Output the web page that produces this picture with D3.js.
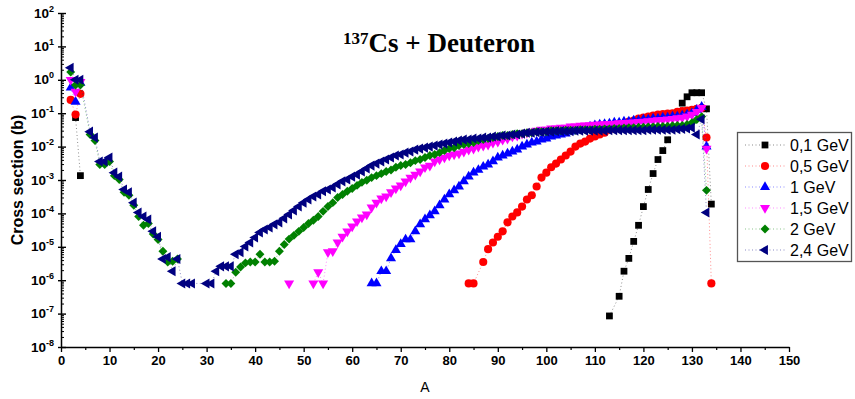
<!DOCTYPE html>
<html><head><meta charset="utf-8">
<script src="https://cdn.jsdelivr.net/npm/d3@7"></script>
<style>body{margin:0;background:#fff}</style>
</head><body>
<svg id="c" width="855" height="399"></svg>
<script>
// ---- data: [A, cross section (b)] ----
const s01 = [[3,7.4e-2],[4,1.35e-3],[113,8.5e-8],[115,3.3e-7],[116,1.86e-6],[117,4.5e-6],[118,1.45e-5],[119,4.4e-5],[120,1.6e-4],[121,5.2e-4],[122,1.56e-3],[123,4.1e-3],[124,7.6e-3],[125,1.6e-2],[128,0.2],[129,0.31],[130,0.41],[131,0.41],[132,0.41],[133,0.135],[134,1.9e-4]];
const s05 = [[2,0.25],[3,0.091],[4,0.38],[84,8e-7],[85,8e-7],[87,3.5e-6],[88,8.5e-6],[89,1.35e-5],[90,2.0e-5],[91,2.9e-5],[92,5.4e-5],[93,8.1e-5],[94,1.07e-4],[95,1.6e-4],[96,2.6e-4],[97,3.5e-4],[98,6.4e-4],[99,1.18e-3],[100,1.66e-3],[101,2.4e-3],[102,3.1e-3],[103,4.1e-3],[104,5.4e-3],[105,7.1e-3],[106,0.010],[107,0.0123],[108,0.0141],[109,0.0174],[110,0.020],[111,0.023],[112,0.026],[113,0.032],[114,0.037],[115,0.043],[116,0.049],[117,0.056],[118,0.060],[119,0.069],[120,0.074],[121,0.079],[122,0.085],[123,0.091],[124,0.094],[125,0.098],[126,0.100],[127,0.110],[128,0.115],[129,0.120],[130,0.126],[131,0.135],[132,0.144],[133,0.0186],[134,8e-7]];
const s1 = [[2,0.58],[3,0.22],[4,0.81],[64,8e-7],[65,8e-7],[66,1.86e-6],[67,1.86e-6],[68,4.5e-6],[69,8.0e-6],[70,1.2e-5],[71,1.66e-5],[72,1.66e-5],[73,2.9e-5],[74,4.7e-5],[75,6.6e-5],[76,8.7e-5],[77,1.15e-4],[78,1.75e-4],[79,2.6e-4],[80,3.7e-4],[81,4.9e-4],[82,6.4e-4],[83,9.1e-4],[84,1.26e-3],[85,1.66e-3],[86,2.0e-3],[87,2.5e-3],[88,2.9e-3],[89,3.6e-3],[90,4.7e-3],[91,5.4e-3],[92,6.2e-3],[93,7.1e-3],[94,8.1e-3],[95,0.010],[96,0.0115],[97,0.0132],[98,0.0141],[99,0.0162],[100,0.0174],[101,0.020],[102,0.0214],[103,0.023],[104,0.0245],[105,0.028],[106,0.030],[107,0.032],[108,0.035],[109,0.040],[110,0.043],[111,0.046],[112,0.047],[113,0.049],[114,0.052],[115,0.052],[116,0.056],[117,0.056],[118,0.060],[119,0.060],[120,0.065],[121,0.065],[122,0.069],[123,0.069],[124,0.074],[125,0.074],[126,0.079],[127,0.079],[128,0.085],[129,0.091],[130,0.100],[131,0.126],[132,0.155],[133,0.010]];
const s15 = [[2,1.0],[3,0.44],[4,0.87],[47,8e-7],[52,8e-7],[53,1.74e-6],[54,8e-7],[55,6.9e-6],[56,7.4e-6],[57,1.35e-5],[58,2.0e-5],[59,2.9e-5],[60,4.1e-5],[61,5.8e-5],[62,7.6e-5],[63,9.3e-5],[64,1.5e-4],[65,2.1e-4],[66,2.8e-4],[67,3.2e-4],[68,4.3e-4],[69,5.6e-4],[70,6.9e-4],[71,9.1e-4],[72,1.18e-3],[73,1.45e-3],[74,1.8e-3],[75,2.4e-3],[76,2.7e-3],[77,3.6e-3],[78,4.1e-3],[79,4.7e-3],[80,5.4e-3],[81,5.8e-3],[82,6.2e-3],[83,7.1e-3],[84,8.1e-3],[85,8.7e-3],[86,0.010],[87,0.0107],[88,0.0115],[89,0.0132],[90,0.0141],[91,0.0162],[92,0.0174],[93,0.020],[94,0.0214],[95,0.0245],[96,0.026],[97,0.028],[98,0.030],[99,0.032],[100,0.032],[101,0.035],[102,0.035],[103,0.037],[104,0.037],[105,0.040],[106,0.040],[107,0.042],[108,0.043],[109,0.044],[110,0.045],[111,0.046],[112,0.047],[113,0.048],[114,0.049],[115,0.050],[116,0.051],[117,0.052],[118,0.053],[119,0.055],[120,0.056],[121,0.058],[122,0.060],[123,0.062],[124,0.063],[125,0.065],[126,0.068],[127,0.071],[128,0.074],[129,0.080],[130,0.091],[131,0.110],[132,0.144],[133,0.0087]];
const s2 = [[2,1.7],[3,0.7],[4,0.7],[6,0.023],[7,0.0151],[8,2.9e-3],[9,2.9e-3],[10,3.6e-3],[11,1.35e-3],[12,1.03e-3],[13,4.3e-4],[14,3.5e-4],[15,1.75e-4],[16,8.1e-5],[17,4.4e-5],[18,5.0e-5],[19,2.4e-5],[20,1.66e-5],[21,7.4e-6],[22,3.5e-6],[23,3.7e-6],[24,4.3e-6],[34,8e-7],[35,8e-7],[36,1.74e-6],[37,2.5e-6],[38,3.3e-6],[39,3.5e-6],[40,3.5e-6],[41,6.0e-6],[42,3.5e-6],[43,3.5e-6],[44,3.7e-6],[45,7.4e-6],[46,1.17e-5],[47,1.7e-5],[48,2.2e-5],[49,2.9e-5],[50,3.8e-5],[51,5.0e-5],[52,6.2e-5],[53,8.1e-5],[54,1.15e-4],[55,1.6e-4],[56,2.1e-4],[57,3.0e-4],[58,3.7e-4],[59,4.6e-4],[60,5.6e-4],[61,6.9e-4],[62,8.5e-4],[63,9.8e-4],[64,1.18e-3],[65,1.35e-3],[66,1.55e-3],[67,1.8e-3],[68,2.0e-3],[69,2.4e-3],[70,2.7e-3],[71,2.9e-3],[72,3.3e-3],[73,3.8e-3],[74,4.1e-3],[75,4.7e-3],[76,5.4e-3],[77,5.8e-3],[78,6.6e-3],[79,7.6e-3],[80,8.7e-3],[81,9.3e-3],[82,0.0107],[83,0.0115],[84,0.0123],[85,0.0132],[86,0.0151],[87,0.0162],[88,0.0174],[89,0.0186],[90,0.020],[91,0.0214],[92,0.0214],[93,0.023],[94,0.0245],[95,0.0245],[96,0.026],[97,0.026],[98,0.028],[99,0.028],[100,0.028],[101,0.030],[102,0.030],[103,0.030],[104,0.031],[105,0.031],[106,0.031],[107,0.032],[108,0.032],[109,0.032],[110,0.033],[111,0.033],[112,0.034],[113,0.034],[114,0.035],[115,0.035],[116,0.036],[117,0.037],[118,0.037],[119,0.038],[120,0.038],[121,0.039],[122,0.039],[123,0.040],[124,0.040],[125,0.041],[126,0.042],[127,0.043],[128,0.043],[129,0.046],[130,0.052],[131,0.065],[132,0.079],[133,4.9e-4]];
const s24 = [[2,2.3],[3,1.0],[4,1.0],[6,0.028],[7,0.0186],[8,3.6e-3],[9,3.6e-3],[10,4.7e-3],[11,1.66e-3],[12,1.26e-3],[13,5.2e-4],[14,4.3e-4],[15,2.1e-4],[16,1.07e-4],[17,8.1e-5],[18,6.6e-5],[19,2.9e-5],[20,2.0e-5],[21,4.3e-6],[22,4.9e-6],[23,1.86e-6],[24,4.3e-6],[25,8e-7],[26,8e-7],[27,8e-7],[30,8e-7],[31,8e-7],[32,1.86e-6],[33,2.6e-6],[34,2.6e-6],[35,2.6e-6],[36,6.0e-6],[37,6.9e-6],[38,1.02e-5],[39,1.35e-5],[40,1.9e-5],[41,2.7e-5],[42,3.3e-5],[43,3.8e-5],[44,4.7e-5],[45,5.4e-5],[46,7.1e-5],[47,9.3e-5],[48,1.23e-4],[49,1.6e-4],[50,2.1e-4],[51,2.6e-4],[52,3.2e-4],[53,3.7e-4],[54,4.6e-4],[55,5.2e-4],[56,6.0e-4],[57,7.4e-4],[58,9.1e-4],[59,1.03e-3],[60,1.26e-3],[61,1.45e-3],[62,1.8e-3],[63,2.2e-3],[64,2.7e-3],[65,3.1e-3],[66,3.6e-3],[67,4.1e-3],[68,4.7e-3],[69,5.4e-3],[70,5.8e-3],[71,6.6e-3],[72,7.1e-3],[73,8.1e-3],[74,8.7e-3],[75,9.3e-3],[76,0.010],[77,0.0107],[78,0.0115],[79,0.0123],[80,0.0132],[81,0.0141],[82,0.0151],[83,0.0162],[84,0.0162],[85,0.0174],[86,0.0174],[87,0.0186],[88,0.0186],[89,0.020],[90,0.020],[91,0.0214],[92,0.0214],[93,0.023],[94,0.023],[95,0.0245],[96,0.026],[97,0.026],[98,0.027],[99,0.027],[100,0.028],[101,0.028],[102,0.029],[103,0.029],[104,0.029],[105,0.029],[106,0.030],[107,0.030],[108,0.030],[109,0.030],[110,0.030],[111,0.030],[112,0.030],[113,0.031],[114,0.031],[115,0.031],[116,0.031],[117,0.031],[118,0.031],[119,0.031],[120,0.031],[121,0.032],[122,0.032],[123,0.032],[124,0.032],[125,0.032],[126,0.032],[127,0.033],[128,0.034],[129,0.035],[130,0.037],[131,0.023],[132,0.066],[133,1.07e-4]];

const seriesNames = ["0,1 GeV","0,5 GeV","1 GeV","1,5 GeV","2 GeV","2,4 GeV"];
const seriesData = [s01, s05, s1, s15, s2, s24];
const xTickValues = [0,10,20,30,40,50,60,70,80,90,100,110,120,130,140,150];
const yExponents = [-8,-7,-6,-5,-4,-3,-2,-1,0,1,2];

// ---- styles ----
const colors = ["#000000","#ff0000","#0000ff","#ff00ff","#008000","#000080"];
const shapes = [
  {t:d3.symbolSquare, s:46, r:0},
  {t:d3.symbolCircle, s:52, r:0},
  {t:d3.symbolTriangle, s:44, r:0},
  {t:d3.symbolTriangle, s:44, r:180},
  {t:d3.symbolSquare, s:40, r:45},
  {t:d3.symbolTriangle, s:44, r:-90}
];
const FONT = "'Liberation Sans', Arial, sans-serif";

const svg = d3.select("#c");
const x = d3.scaleLinear().domain([0,150]).range([61,789]);
const y = d3.scaleLog().domain([1e-8,1e2]).range([347,13]);

// ---- series ----
function segments(data){
  const segs=[]; let cur=[];
  data.forEach((d,i)=>{ if(i>0 && d[0]-data[i-1][0]>3){segs.push(cur);cur=[];} cur.push(d); });
  segs.push(cur); return segs;
}
const line = d3.line().x(d=>x(d[0])).y(d=>y(d[1]));
const plot = svg.append("g");
seriesData.forEach((data,i)=>{
  const g = plot.append("g");
  segments(data).forEach(seg=>{
    g.append("path").attr("d", line(seg)).attr("fill","none")
      .attr("stroke", colors[i]).attr("stroke-width",1).attr("stroke-dasharray","1,2.5").attr("opacity",0.45);
  });
  const sym = d3.symbol().type(shapes[i].t).size(shapes[i].s);
  g.selectAll("path.m").data(data).join("path").attr("class","m")
    .attr("d", sym())
    .attr("transform", d=>`translate(${x(d[0])},${y(d[1])}) rotate(${shapes[i].r})`)
    .attr("fill", colors[i]);
});

// ---- axes ----
const axG = svg.append("g");
const xAxis = d3.axisBottom(x).tickValues(xTickValues).tickSizeInner(5).tickSizeOuter(0).tickPadding(3);
const gx = axG.append("g").attr("transform","translate(0,347)").call(xAxis);
gx.select(".domain").attr("stroke","#000").attr("stroke-width",1.5);
gx.selectAll(".tick line").attr("stroke","#000").attr("stroke-width",1.3);
gx.selectAll(".tick text").attr("font-family",FONT).attr("font-weight","bold").attr("font-size",13).attr("fill","#000").attr("dy","0.75em");
const xMinor = d3.axisBottom(x).tickValues(xTickValues.slice(0,-1).map(v=>v+5)).tickSizeInner(3).tickSizeOuter(0).tickFormat("");
const gxm = axG.append("g").attr("transform","translate(0,347)").call(xMinor);
gxm.select(".domain").remove();
gxm.selectAll(".tick line").attr("stroke","#000").attr("stroke-width",1.2);

const yMajor = yExponents.map(e=>Math.pow(10,e));
const yAxis = d3.axisLeft(y).tickValues(yMajor).tickSizeInner(-5).tickSizeOuter(0).tickFormat("");
const gy = axG.append("g").attr("transform","translate(61,0)").call(yAxis);
gy.select(".domain").attr("stroke","#000").attr("stroke-width",1.5);
gy.selectAll(".tick line").attr("stroke","#000").attr("stroke-width",1.4).attr("x1",-3);
const yMinorVals = [];
yExponents.slice(0,-1).forEach(e=>{ for(let k=2;k<=9;k++) yMinorVals.push(k*Math.pow(10,e)); });
const yMinor = d3.axisLeft(y).tickValues(yMinorVals).tickSizeInner(-3).tickSizeOuter(0).tickFormat("");
const gym = axG.append("g").attr("transform","translate(61,0)").call(yMinor);
gym.select(".domain").remove();
gym.selectAll(".tick line").attr("stroke","#000").attr("stroke-width",1);

yExponents.forEach(e=>{
  const t = axG.append("text").attr("x",54).attr("y",y(Math.pow(10,e))+4.5)
    .attr("text-anchor","end").attr("font-family",FONT).attr("font-weight","bold").attr("fill","#000");
  t.append("tspan").attr("font-size",13.5).text("10");
  t.append("tspan").attr("font-size",9).attr("dy",-6).text(String(e));
});

svg.append("text").attr("x",425).attr("y",392).attr("text-anchor","middle")
  .attr("font-family",FONT).attr("font-size",14).attr("fill","#000").text("A");
svg.append("text").attr("transform","translate(23,180) rotate(-90)").attr("text-anchor","middle")
  .attr("font-family",FONT).attr("font-weight","bold").attr("font-size",16).attr("fill","#000").text("Cross section (b)");

const title = svg.append("text").attr("x",439).attr("y",52).attr("text-anchor","middle")
  .attr("font-family","'Liberation Serif','Times New Roman',serif").attr("font-weight","bold").attr("fill","#000");
title.append("tspan").attr("font-size",17).attr("dy",-8).text("137");
title.append("tspan").attr("font-size",27).attr("dy",8).text("Cs + Deuteron");

const lg = svg.append("g");
lg.append("rect").attr("x",737.5).attr("y",132.5).attr("width",114).attr("height",129)
  .attr("fill","#fff").attr("stroke","#555").attr("stroke-width",1.3);
seriesNames.forEach((n,i)=>{
  const yy = 145 + 21*i;
  lg.append("line").attr("x1",745).attr("x2",786).attr("y1",yy).attr("y2",yy)
    .attr("stroke",colors[i]).attr("stroke-width",1).attr("stroke-dasharray","1,2.5").attr("opacity",0.45);
  lg.append("path").attr("d", d3.symbol().type(shapes[i].t).size(shapes[i].s)())
    .attr("transform",`translate(765,${yy}) rotate(${shapes[i].r})`).attr("fill",colors[i]);
  lg.append("text").attr("x",790).attr("y",yy+5.5).attr("font-family",FONT).attr("font-size",16)
    .attr("fill","#000").text(n);
});
</script>
</body></html>
